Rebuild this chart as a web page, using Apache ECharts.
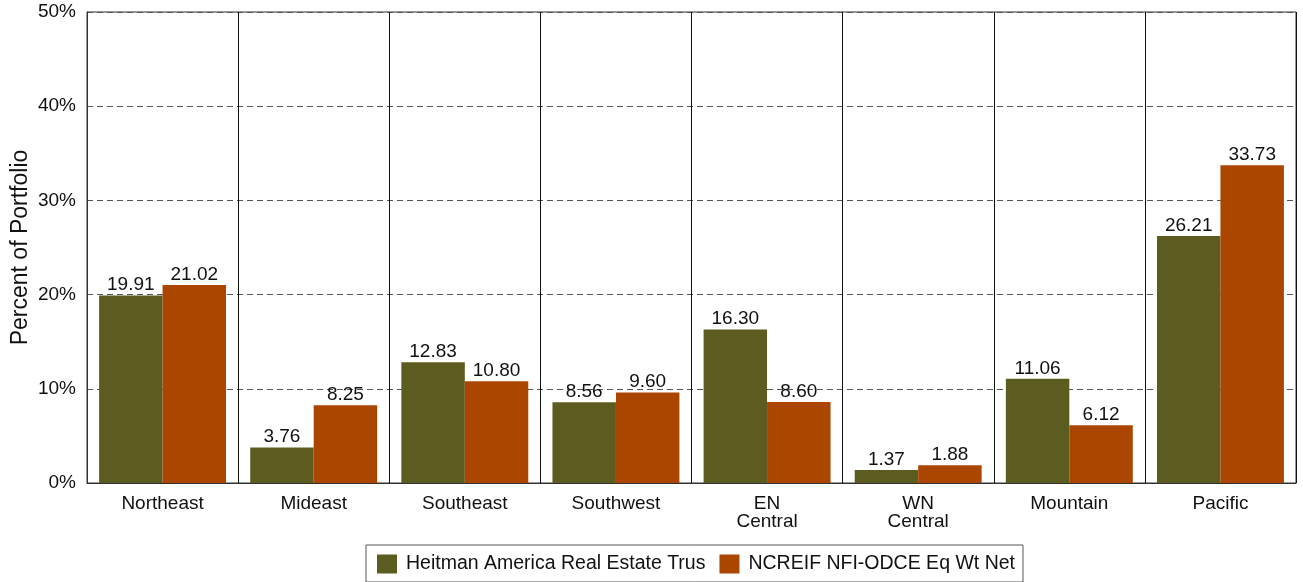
<!DOCTYPE html>
<html>
<head>
<meta charset="utf-8">
<script src="https://cdn.jsdelivr.net/npm/echarts@6/dist/echarts.min.js"></script>
<style>
  html, body { margin: 0; padding: 0; background: #fff; }
  #chart { width: 1303px; height: 582px; }
</style>
</head>
<body>
<div id="chart"></div>
<script>
// regions on the x axis
var regions = ["Northeast", "Mideast", "Southeast", "Southwest", "EN\nCentral", "WN\nCentral", "Mountain", "Pacific"];
var heitman = [19.91, 3.76, 12.83, 8.56, 16.30, 1.37, 11.06, 26.21];
var ncreif = [21.02, 8.25, 10.80, 9.60, 8.60, 1.88, 6.12, 33.73];
var seriesNames = ["Heitman America Real Estate Trus", "NCREIF NFI-ODCE Eq Wt Net"];

var green = "#5C5C20";
var orange = "#AA4600";
var font = "Liberation Sans, Arial, sans-serif";

var barLabel = {
  show: true,
  position: "top",
  distance: 1,
  color: "#111",
  fontSize: 19,
  fontFamily: font,
  formatter: function (p) { return p.value.toFixed(2); }
};

var myChart = echarts.init(document.getElementById("chart"));
var option = {
  animation: false,
  textStyle: { fontFamily: font },
  grid: {
    left: 87,
    right: 7,
    top: 12,
    bottom: 99,
    outerBoundsMode: "none",
    containLabel: false,
    show: true,
    borderColor: "#333",
    borderWidth: 1
  },
  legend: {
    data: seriesNames,
    left: 366,
    top: 545,
    icon: "rect",
    itemWidth: 20,
    itemHeight: 19,
    itemGap: 14,
    padding: [9, 8, 8, 11],
    borderColor: "#555",
    borderWidth: 1,
    textStyle: { fontSize: 19.5, color: "#111", fontFamily: font, padding: [0, 0, 0, 4] }
  },
  xAxis: {
    type: "category",
    data: regions,
    axisLine: { lineStyle: { color: "#333" } },
    axisTick: { show: false },
    axisLabel: {
      color: "#111",
      fontSize: 19,
      fontFamily: font,
      margin: 12,
      lineHeight: 18
    },
    splitLine: {
      show: true,
      lineStyle: { color: "#111", width: 1 }
    }
  },
  yAxis: {
    type: "value",
    min: 0,
    max: 50,
    interval: 10,
    name: "Percent of Portfolio",
    nameLocation: "middle",
    nameGap: 55,
    nameMoveOverlap: false,
    nameTextStyle: { fontSize: 23, color: "#111", fontFamily: font },
    axisLine: { show: true, lineStyle: { color: "#333" } },
    axisTick: { show: false },
    axisLabel: {
      color: "#111",
      fontSize: 19,
      fontFamily: font,
      margin: 11,
      formatter: "{value}%"
    },
    splitLine: {
      lineStyle: { color: "#555", type: [6, 4], width: 1 }
    }
  },
  series: [
    {
      name: seriesNames[0],
      type: "bar",
      data: heitman,
      barGap: "0%",
      barCategoryGap: "16%",
      itemStyle: { color: green },
      label: barLabel
    },
    {
      name: seriesNames[1],
      type: "bar",
      data: ncreif,
      itemStyle: { color: orange },
      label: barLabel
    }
  ]
};
myChart.setOption(option);
</script>
</body>
</html>
